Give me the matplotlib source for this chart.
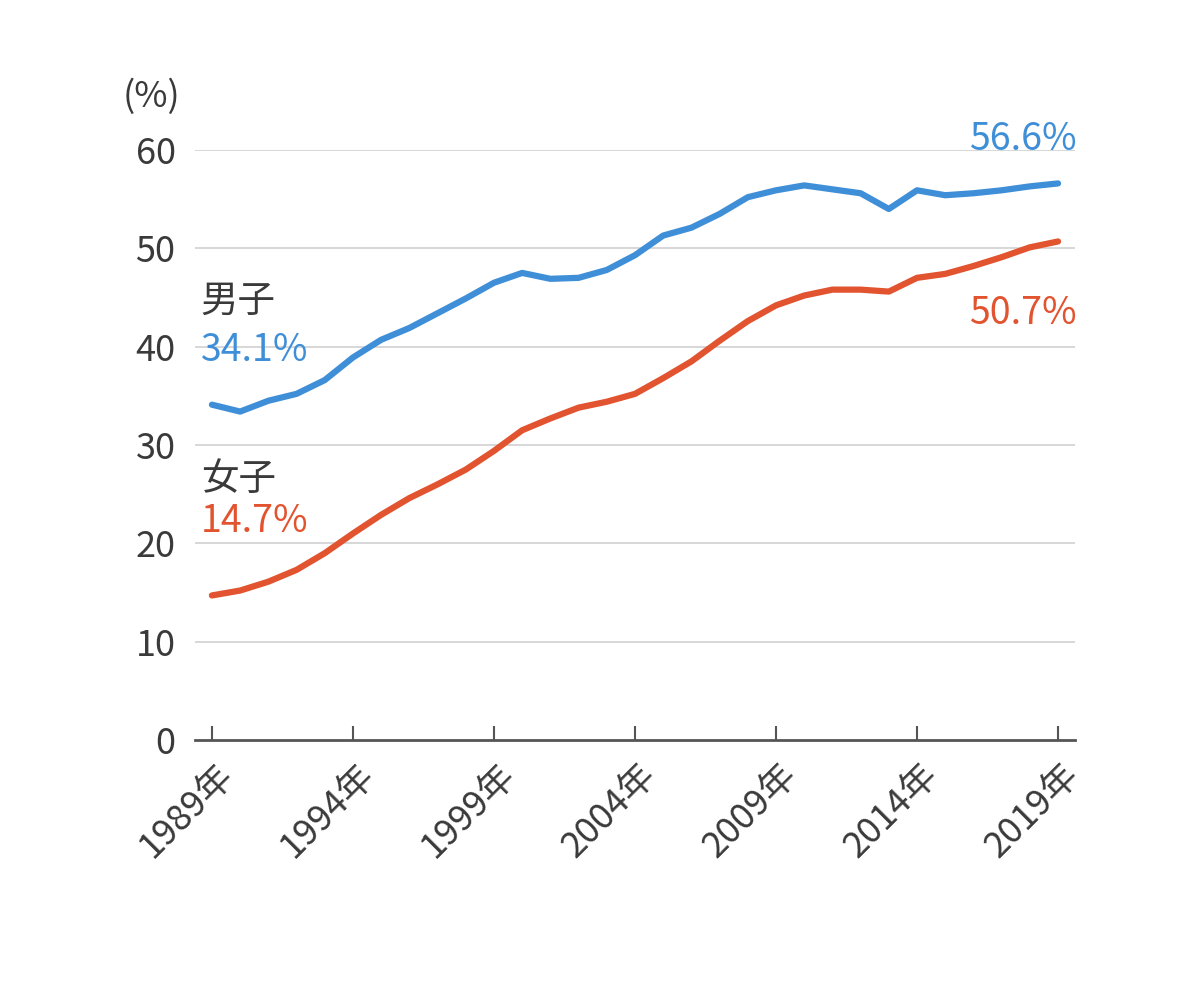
import matplotlib
matplotlib.use('Agg')
import matplotlib.pyplot as plt

years = list(range(1989, 2020))
male = [34.1, 33.4, 34.5, 35.2, 36.6, 38.9, 40.7, 41.9, 43.4, 44.9,
        46.5, 47.5, 46.9, 47.0, 47.8, 49.3, 51.3, 52.1, 53.5, 55.2,
        55.9, 56.4, 56.0, 55.6, 54.0, 55.9, 55.4, 55.6, 55.9, 56.3, 56.6]
female = [14.7, 15.2, 16.1, 17.3, 19.0, 21.0, 22.9, 24.6, 26.0, 27.5,
          29.4, 31.5, 32.7, 33.8, 34.4, 35.2, 36.8, 38.5, 40.6, 42.6,
          44.2, 45.2, 45.8, 45.8, 45.6, 47.0, 47.4, 48.2, 49.1, 50.1, 50.7]
tick_years = [1989, 1994, 1999, 2004, 2009, 2014, 2019]
y_ticks = [0, 10, 20, 30, 40, 50, 60]

plt.rcParams['font.family'] = ['Noto Sans CJK JP', 'DejaVu Sans']

blue = '#3f8fd8'
red = '#e2532f'
grey = '#3a3a3a'

fig = plt.figure(figsize=(12, 10.06), dpi=100)
ax = fig.add_axes([0.1625, 0.2644, 0.7333, 0.5865])

ax.plot(years, male, color=blue, lw=4.5, solid_capstyle='round', solid_joinstyle='round', zorder=3)
ax.plot(years, female, color=red, lw=4.5, solid_capstyle='round', solid_joinstyle='round', zorder=3)

ax.set_xlim(1988.4, 2019.6)
ax.set_ylim(0, 60)
ax.set_yticks(y_ticks)
ax.set_yticklabels([str(v) for v in y_ticks])
ax.set_xticks(tick_years)
ax.set_xticklabels([f'{y}年' for y in tick_years], rotation=45, ha='right',
                   rotation_mode='anchor')

for v in y_ticks[1:]:
    ax.axhline(v, color='#d4d4d4', lw=1.3, zorder=1)

for s in ['left', 'right', 'top']:
    ax.spines[s].set_visible(False)
ax.spines['bottom'].set_color('#555555')
ax.spines['bottom'].set_linewidth(2)

ax.tick_params(axis='y', length=0, pad=14, labelsize=26, labelcolor=grey)
ax.tick_params(axis='x', direction='in', length=10, width=1.5, color='#555555',
               pad=12, labelsize=26, labelcolor=grey)
for lab in ax.get_xticklabels():
    lab.set_transform(lab.get_transform() + matplotlib.transforms.ScaledTranslation(0.03, 0, fig.dpi_scale_trans))

fig.text(123 / 1200, 1 - 97 / 1006, '(%)', fontsize=26, color=grey, va='center', ha='left')

ax.text(1988.6, 44.6, '男子', fontsize=27, color=grey, va='center', ha='left')
ax.text(1988.6, 39.6, f'{male[0]}%', fontsize=27, color=blue, va='center', ha='left')
ax.text(1988.6, 26.5, '女子', fontsize=27, color=grey, va='center', ha='left')
ax.text(1988.6, 22.2, f'{female[0]}%', fontsize=27, color=red, va='center', ha='left')
ax.text(2019.65, 61.1, f'{male[-1]}%', fontsize=27, color=blue, va='center', ha='right')
ax.text(2019.65, 43.4, f'{female[-1]}%', fontsize=27, color=red, va='center', ha='right')

fig.savefig('out.png', dpi=100, facecolor='white')
